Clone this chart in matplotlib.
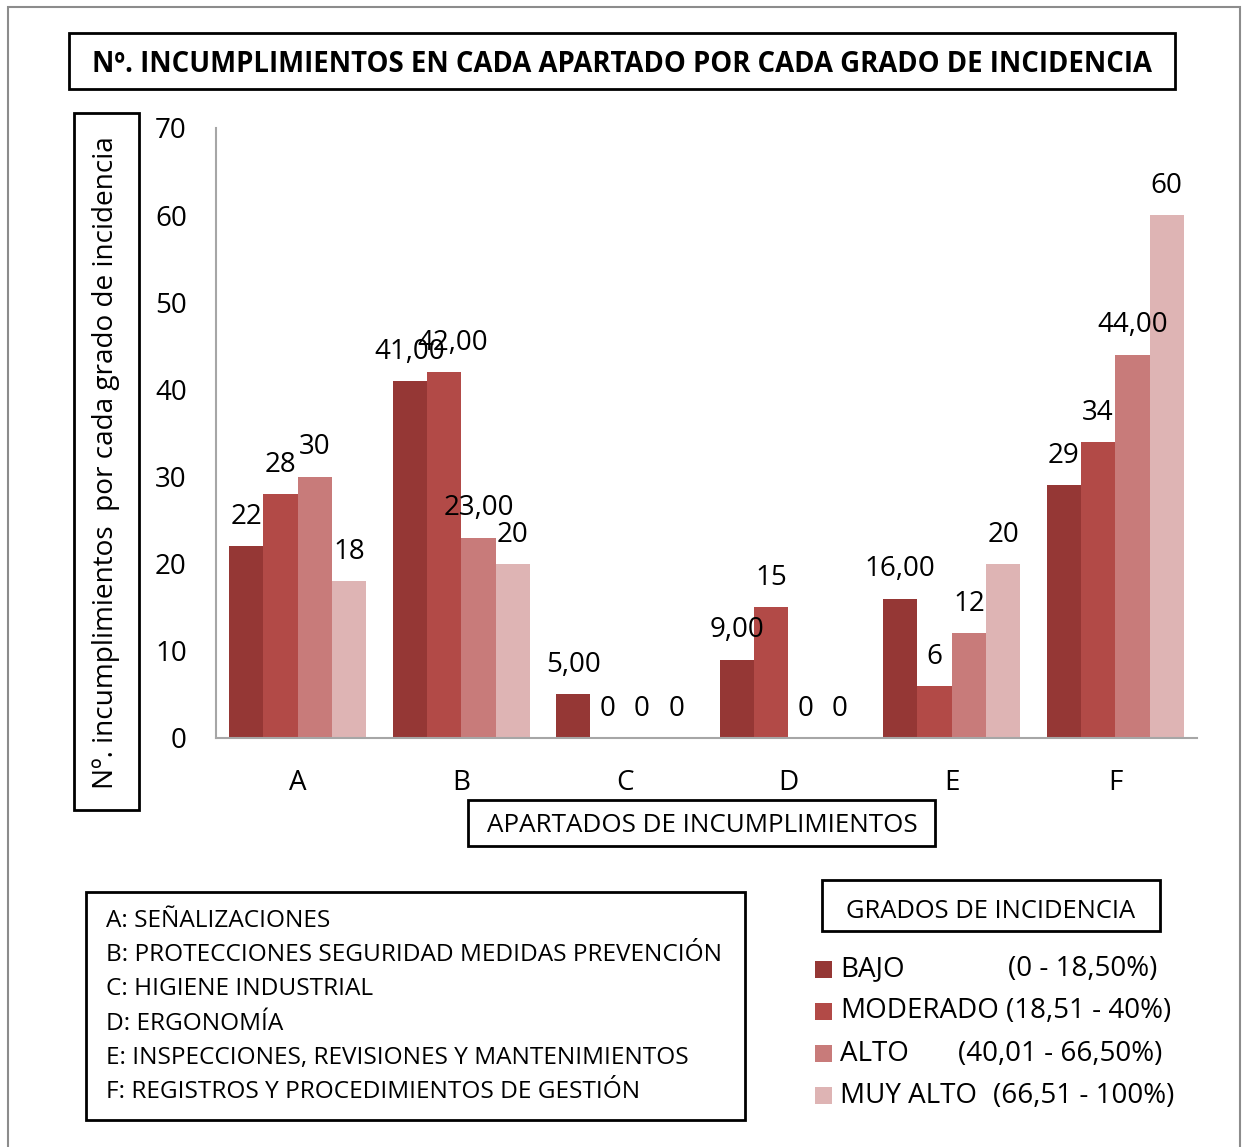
import numpy as np
import matplotlib.pyplot as plt
from matplotlib.patches import Rectangle

plt.rcParams['font.family'] = ['Open Sans', 'DejaVu Sans']

# datos
apartados = ['A', 'B', 'C', 'D', 'E', 'F']
grados = ['BAJO', 'MODERADO', 'ALTO', 'MUY ALTO']
rangos = ['(0 - 18,50%)', '(18,51 - 40%)', '(40,01 - 66,50%)', '(66,51 - 100%)']
bajo = [22, 41, 5, 9, 16, 29]
moderado = [28, 42, 0, 15, 6, 34]
alto = [30, 23, 0, 0, 12, 44]
muy_alto = [18, 20, 0, 0, 20, 60]
etiquetas = [
    ['22', '41,00', '5,00', '9,00', '16,00', '29'],
    ['28', '42,00', '0', '15', '6', '34'],
    ['30', '23,00', '0', '0', '12', '44,00'],
    ['18', '20', '0', '0', '20', '60'],
]
leyenda_apartados = [
    'A: SEÑALIZACIONES',
    'B: PROTECCIONES SEGURIDAD MEDIDAS PREVENCIÓN',
    'C: HIGIENE INDUSTRIAL',
    'D: ERGONOMÍA',
    'E: INSPECCIONES, REVISIONES Y MANTENIMIENTOS',
    'F: REGISTROS Y PROCEDIMIENTOS DE GESTIÓN',
]
colores = ['#953735', '#B24A47', '#C87B7A', '#DEB4B4']

W, H = 1246, 1147
fig = plt.figure(figsize=(W / 100, H / 100), dpi=100)

def fx(px):
    return px / W

def fy(py):
    return 1 - py / H

def caja(x0, y0, x1, y1, lw=2.0, color='black'):
    fig.patches.append(Rectangle((fx(x0), fy(y1)), fx(x1) - fx(x0), fy(y0) - fy(y1),
                                 transform=fig.transFigure, fill=False,
                                 edgecolor=color, linewidth=lw))

# borde exterior
caja(8, 7, 1240, 1160, lw=1.5, color='#8C8C8C')

ax = fig.add_axes([fx(216), fy(738), fx(1197) - fx(216), fy(128) - fy(738)])
x = np.arange(len(apartados))
ancho = 0.21
series = [bajo, moderado, alto, muy_alto]
for i, vals in enumerate(series):
    pos = x + (i - 1.5) * ancho
    ax.bar(pos, vals, ancho, color=colores[i], label=grados[i])
    for j, v in enumerate(vals):
        dx = 6.5 if (i == 1 and j == 1) else 0
        ax.annotate(etiquetas[i][j], (pos[j], v), xytext=(dx, 21),
                    textcoords='offset points', ha='center', va='center',
                    fontsize=20)

ax.set_xlim(-0.5, len(apartados) - 0.5)
ax.set_ylim(0, 70)
ax.set_yticks(range(0, 71, 10))
ax.set_xticks(x)
ax.set_xticklabels(apartados)
ax.tick_params(axis='both', length=0, labelsize=20)
ax.tick_params(axis='y', pad=21)
ax.tick_params(axis='x', pad=22)
for s in ['top', 'right']:
    ax.spines[s].set_visible(False)
for s in ['left', 'bottom']:
    ax.spines[s].set_color('#A6A6A6')
    ax.spines[s].set_linewidth(1.5)

# titulo
caja(69, 33, 1175, 89)
fig.text(fx(622), fy(65), 'Nº. INCUMPLIMIENTOS EN CADA APARTADO POR CADA GRADO DE INCIDENCIA',
         ha='center', va='center', fontsize=19.8, fontweight='bold')

# eje y
caja(74, 113, 139, 810)
fig.text(fx(106), fy(463), 'Nº. incumplimientos  por cada grado de incidencia',
         ha='center', va='center', rotation=90, fontsize=20.2)

# eje x
caja(468, 800, 935, 846)
fig.text(fx(702), fy(825), 'APARTADOS DE INCUMPLIMIENTOS',
         ha='center', va='center', fontsize=18.7)

# leyenda apartados
caja(86, 892, 745, 1120)
for k, t in enumerate(leyenda_apartados):
    fig.text(fx(106), fy(921 + k * 34.2), t, ha='left', va='center', fontsize=17.6)

# leyenda grados
caja(822, 880, 1160, 931)
fig.text(fx(991), fy(911), 'GRADOS DE INCIDENCIA', ha='center', va='center', fontsize=18.4)
rango_x = [1008, 1006, 958, 993]
for k in range(4):
    yc = 969 + k * 42.3
    fig.patches.append(Rectangle((fx(815), fy(yc + 8.5)), fx(832) - fx(815), fy(yc - 8.5) - fy(yc + 8.5),
                                 transform=fig.transFigure, facecolor=colores[k], edgecolor='none'))
    fig.text(fx(840), fy(yc), grados[k], ha='left', va='center', fontsize=20)
    fig.text(fx(rango_x[k]), fy(yc), rangos[k], ha='left', va='center', fontsize=20)

fig.savefig('out.png', dpi=100)
